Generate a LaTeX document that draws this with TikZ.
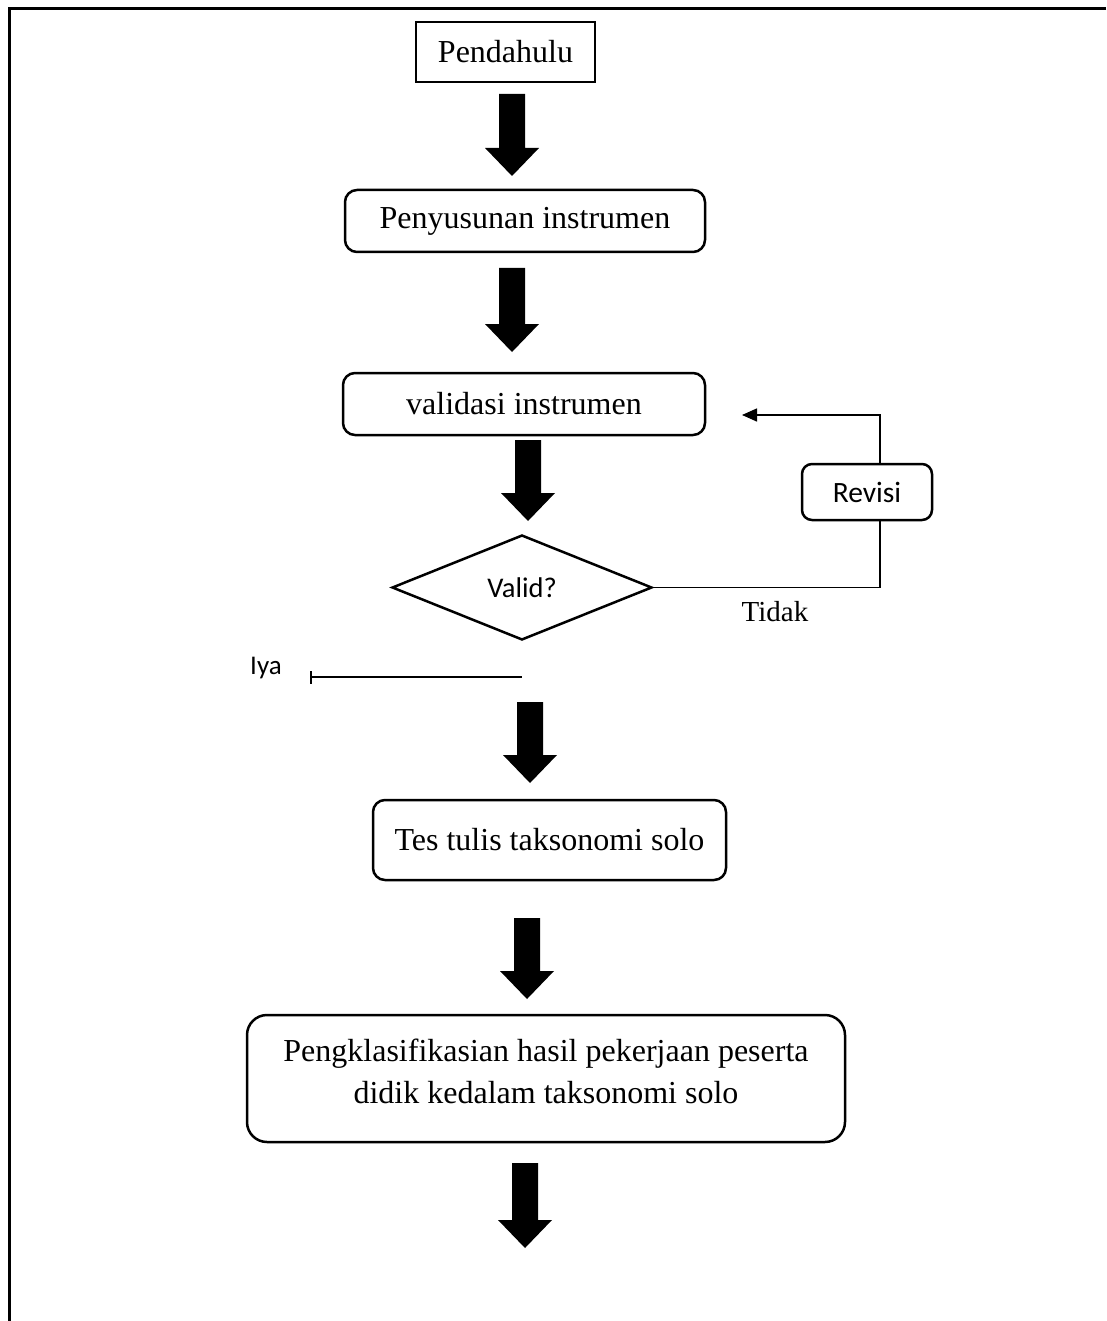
\documentclass[tikz,border=0pt]{standalone}
\usepackage{fontspec}
\setmainfont{Liberation Serif}
\newfontfamily\calfont{Carlito}
\usetikzlibrary{shapes.geometric,arrows.meta}
\newcommand\blockarr[3]{%
  \fill[black] ({#1-13},#2) -- ({#1+13},#2) -- ({#1+13},{#3-28}) -- ({#1+27},{#3-28})
    -- (#1,#3) -- ({#1-27},{#3-28}) -- ({#1-13},{#3-28}) -- cycle;}
\tikzset{
  mainbox/.style={draw, line width=2.5pt, rounded corners=12pt, inner sep=0pt,
    font=\fontsize{32}{42}\selectfont, align=center},
  plainbox/.style={draw, line width=2.5pt, inner sep=0pt,
    font=\fontsize{32}{42}\selectfont},
  decide/.style={draw, diamond, line width=2.5pt, inner sep=0pt, aspect=2.5,
    font=\calfont\fontsize{28.5}{32}\selectfont},
  smallbox/.style={draw, fill=white, line width=2.5pt, rounded corners=10pt, inner sep=0pt,
    font=\calfont\fontsize{29.5}{34}\selectfont},
  thin/.style={line width=1.5pt},
}
\begin{document}
\begin{tikzpicture}[x=1pt,y=-1pt]
\useasboundingbox (0,0) rectangle (1106,1321);
% frame
\draw[line width=3pt] (1106,8.5) -- (9,8.5) -- (9,1321);
% nodes
\node[plainbox, minimum width=179pt, minimum height=60pt] (pend) at (505.5,52) {Pendahulu};
\node[mainbox, minimum width=360pt, minimum height=62pt] (peny) at (525,221) {Penyusunan instrumen};
\node[mainbox, minimum width=362pt, minimum height=62pt] (vali) at (524,404) {validasi instrumen};
\node[decide, minimum width=260pt, minimum height=105pt] (valid) at (522,587.5) {Valid?};
\node[mainbox, minimum width=353pt, minimum height=80pt] (tes) at (549.5,840) {Tes tulis taksonomi solo};
\node[mainbox, rounded corners=20pt, minimum width=598pt, minimum height=127pt, text depth=14pt] (peng) at (546,1078.5)
  {Pengklasifikasian hasil pekerjaan peserta\\didik kedalam taksonomi solo};
% block arrows
\blockarr{512}{94}{176}
\blockarr{512}{268}{352}
\blockarr{528}{440}{521}
\blockarr{530}{702}{783}
\blockarr{527}{918}{999}
\blockarr{525}{1163}{1248}
% revision loop
\coordinate (c1) at (880,587.5);
\coordinate (tip) at (742,415);
\node[smallbox, minimum width=130pt, minimum height=56pt] (rev) at (867,492) {Revisi};
\draw[thin] (valid.east) -- (c1) -- (rev.south -| c1);
\draw[thin, -{Triangle[length=15pt,width=13pt]}] (rev.north -| c1) |- (tip);
\node[font=\fontsize{29}{34}\selectfont] (tidak) at (775,612) {Tidak};
% Iya branch
\coordinate (iyaR) at (522,677);
\coordinate (iyaL) at (310,677);
\draw[thin, {Bar[width=13pt,line width=2pt]}-] (iyaL) -- (iyaR);
\node[font=\calfont\fontsize{27}{32}\selectfont] (iya) at (266,668) {Iya};
\end{tikzpicture}
\end{document}
